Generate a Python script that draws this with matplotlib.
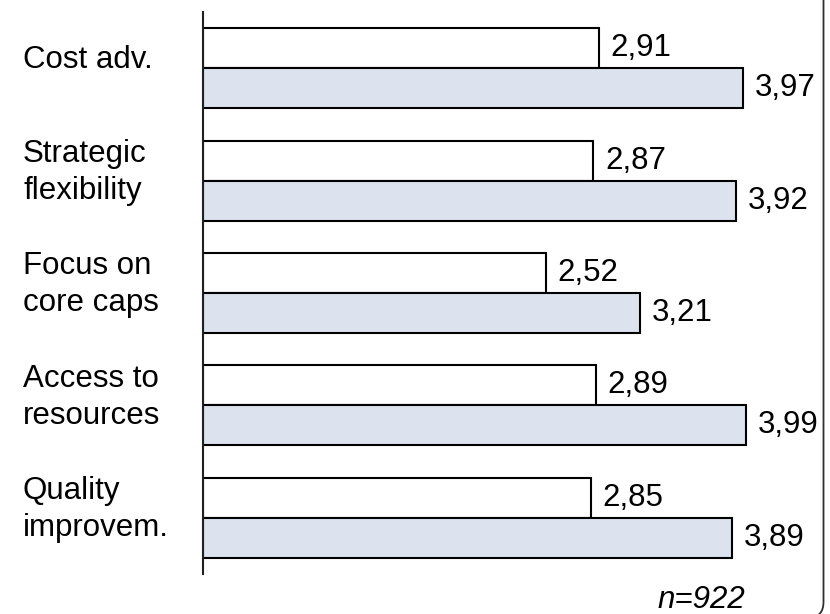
import matplotlib
matplotlib.use("Agg")
import matplotlib.pyplot as plt
import matplotlib.patches as mpatches
import matplotlib.transforms as mtransforms
import numpy as np

plt.rcParams['font.family'] = ['Liberation Sans', 'DejaVu Sans']

# Survey results, one pair of bars per outsourcing goal
categories = ["Cost adv.", "Strategic\nflexibility", "Focus on\ncore caps",
              "Access to\nresources", "Quality\nimprovem."]
expected = [2.91, 2.87, 2.52, 2.89, 2.85]
achieved = [3.97, 3.92, 3.21, 3.99, 3.89]
sample_note = "n=922"

fig = plt.figure(figsize=(8.30, 6.14), dpi=100)
ax = fig.add_axes([203 / 830, 40 / 614, 620 / 830, 562 / 614])

y = np.arange(len(categories))
h = 0.356
fs = 22.5

ax.barh(y - h / 2, expected, height=h, color="white", edgecolor="black", linewidth=1.5)
ax.barh(y + h / 2, achieved, height=h, color="#dce3ee", edgecolor="black", linewidth=1.5)

for yi, v in zip(y - h / 2, expected):
    ax.annotate(f"{v:.2f}".replace(".", ","), (v, yi), xytext=(8.5, 0),
                textcoords="offset points", va="center", ha="left",
                fontsize=fs, annotation_clip=False)
for yi, v in zip(y + h / 2, achieved):
    ax.annotate(f"{v:.2f}".replace(".", ","), (v, yi), xytext=(8.5, 0),
                textcoords="offset points", va="center", ha="left",
                fontsize=fs, annotation_clip=False)

# category names sit left of the axis, left-aligned
lab_tr = mtransforms.blended_transform_factory(fig.transFigure, ax.transData)
lab_tr = lab_tr + mtransforms.ScaledTranslation(0, 6 / 72, fig.dpi_scale_trans)
for yi, name in zip(y, categories):
    ax.text(23 / 830, yi, name, transform=lab_tr, ha="left", va="center",
            fontsize=fs, linespacing=1.3)

ax.set_xlim(0, 620 / 136)
ax.set_ylim(len(categories) - 0.5, -0.5)
ax.set_xticks([])
ax.set_yticks([])
for s in ["top", "right", "bottom"]:
    ax.spines[s].set_visible(False)
ax.spines["left"].set_linewidth(1.5)
ax.spines["left"].set_color("#202020")

fig.text(745 / 830, 6 / 614, sample_note, ha="right", va="baseline",
         fontsize=fs, style="italic")

# rounded outer frame, mostly running off the canvas
frame = mpatches.FancyBboxPatch((-100, -4), 923.5, 800,
                                boxstyle="round,pad=0,rounding_size=16",
                                transform=mtransforms.IdentityTransform(),
                                facecolor="none", edgecolor="#303030", linewidth=1.3)
fig.patches.append(frame)

fig.savefig("out.png", dpi=100)
